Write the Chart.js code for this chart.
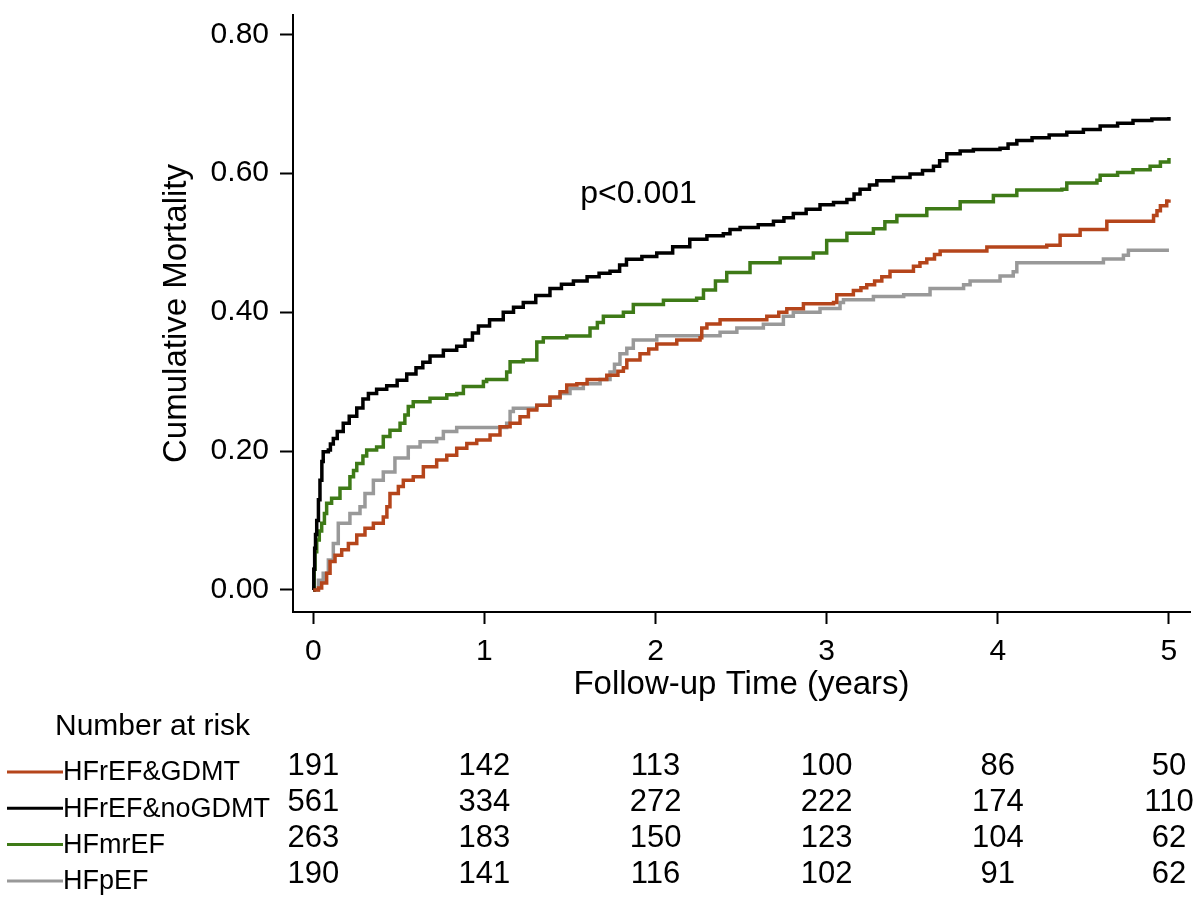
<!DOCTYPE html>
<html>
<head>
<meta charset="utf-8">
<script src="https://cdn.jsdelivr.net/npm/chart.js@4"></script>
<style>
  body { margin: 0; background: #fff; }
  canvas { display: block; }
</style>
</head>
<body>
<canvas id="myChart" width="1200" height="898"></canvas>
<script>
// cumulative mortality (stepped KM)
var tGDMT = [0, 0.03, 0.049, 0.078, 0.098, 0.127, 0.166, 0.205, 0.254, 0.302, 0.351, 0.409, 0.43, 0.448, 0.497, 0.526, 0.584, 0.643, 0.721, 0.78, 0.838, 0.897, 0.955, 1.033, 1.091, 1.15, 1.208, 1.257, 1.306, 1.383, 1.442, 1.481, 1.54, 1.6, 1.715, 1.78, 1.812, 1.832, 1.909, 1.96, 2.007, 2.124, 2.26, 2.27, 2.3, 2.377, 2.65, 2.72, 2.767, 2.864, 3.04, 3.059, 3.156, 3.2, 3.234, 3.28, 3.322, 3.37, 3.507, 3.545, 3.585, 3.63, 3.663, 3.936, 4.286, 4.364, 4.481, 4.637, 4.91, 4.93, 4.95, 4.987, 5.0];
var yGDMT = [0, 0.003, 0.01, 0.024, 0.041, 0.05, 0.058, 0.067, 0.079, 0.089, 0.096, 0.105, 0.12, 0.139, 0.149, 0.158, 0.163, 0.1775, 0.187, 0.194, 0.204, 0.211, 0.216, 0.223, 0.235, 0.24, 0.2495, 0.259, 0.266, 0.278, 0.2855, 0.295, 0.297, 0.303, 0.309, 0.315, 0.32, 0.331, 0.34, 0.347, 0.354, 0.36, 0.363, 0.377, 0.383, 0.389, 0.394, 0.40, 0.405, 0.412, 0.414, 0.425, 0.431, 0.435, 0.4395, 0.445, 0.451, 0.459, 0.466, 0.471, 0.4765, 0.483, 0.488, 0.4937, 0.4964, 0.5107, 0.519, 0.531, 0.539, 0.546, 0.553, 0.56, 0.562];

var tNoGDMT = [0, 0.003, 0.008, 0.013, 0.02, 0.03, 0.039, 0.05, 0.058, 0.088, 0.1, 0.117, 0.14, 0.175, 0.21, 0.254, 0.29, 0.322, 0.37, 0.429, 0.49, 0.546, 0.6, 0.64, 0.682, 0.76, 0.838, 0.887, 0.93, 0.965, 1.03, 1.11, 1.17, 1.227, 1.3, 1.383, 1.45, 1.52, 1.6, 1.67, 1.734, 1.79, 1.83, 1.92, 2.007, 2.1, 2.2, 2.3, 2.396, 2.435, 2.494, 2.6, 2.689, 2.75, 2.805, 2.88, 2.961, 3.04, 3.118, 3.16, 3.195, 3.25, 3.293, 3.39, 3.487, 3.56, 3.624, 3.66, 3.702, 3.78, 3.857, 4.013, 4.06, 4.111, 4.2, 4.3, 4.403, 4.5, 4.598, 4.7, 4.79, 4.9, 5.0];
var yNoGDMT = [0, 0.03, 0.06, 0.08, 0.10, 0.13, 0.158, 0.185, 0.199, 0.2015, 0.21, 0.218, 0.228, 0.24, 0.25, 0.262, 0.275, 0.283, 0.289, 0.294, 0.302, 0.311, 0.32, 0.328, 0.337, 0.345, 0.351, 0.36, 0.37, 0.38, 0.389, 0.40, 0.407, 0.414, 0.424, 0.434, 0.44, 0.445, 0.451, 0.456, 0.459, 0.468, 0.476, 0.48, 0.485, 0.494, 0.505, 0.51, 0.513, 0.519, 0.522, 0.526, 0.531, 0.536, 0.542, 0.548, 0.5546, 0.558, 0.562, 0.57, 0.577, 0.583, 0.589, 0.594, 0.599, 0.604, 0.610, 0.618, 0.628, 0.632, 0.634, 0.636, 0.642, 0.647, 0.651, 0.655, 0.659, 0.663, 0.668, 0.672, 0.676, 0.678, 0.681];

var tMrEF = [0, 0.005, 0.01, 0.02, 0.035, 0.049, 0.065, 0.078, 0.107, 0.156, 0.214, 0.235, 0.254, 0.29, 0.312, 0.37, 0.409, 0.448, 0.507, 0.535, 0.555, 0.584, 0.682, 0.78, 0.838, 0.877, 0.994, 1.013, 1.13, 1.15, 1.227, 1.306, 1.344, 1.481, 1.617, 1.66, 1.695, 1.812, 1.87, 2.046, 2.24, 2.28, 2.35, 2.416, 2.552, 2.728, 2.922, 3.0, 3.118, 3.273, 3.34, 3.41, 3.585, 3.78, 3.974, 4.111, 4.374, 4.403, 4.579, 4.598, 4.7, 4.79, 4.89, 4.95, 5.0];
var yMrEF = [0, 0.03, 0.055, 0.072, 0.085, 0.096, 0.11, 0.125, 0.132, 0.1465, 0.163, 0.172, 0.182, 0.193, 0.2015, 0.206, 0.221, 0.23, 0.24, 0.252, 0.264, 0.271, 0.276, 0.281, 0.283, 0.293, 0.30, 0.303, 0.314, 0.3285, 0.331, 0.357, 0.363, 0.3655, 0.377, 0.385, 0.394, 0.40, 0.411, 0.417, 0.42, 0.432, 0.445, 0.457, 0.471, 0.478, 0.485, 0.503, 0.5135, 0.52, 0.53, 0.539, 0.549, 0.559, 0.568, 0.576, 0.577, 0.586, 0.590, 0.597, 0.601, 0.605, 0.610, 0.616, 0.622];

var tPEF = [0, 0.03, 0.058, 0.088, 0.117, 0.146, 0.214, 0.273, 0.302, 0.351, 0.409, 0.477, 0.555, 0.624, 0.721, 0.76, 0.838, 1.13, 1.15, 1.169, 1.306, 1.383, 1.442, 1.5, 1.578, 1.676, 1.734, 1.76, 1.792, 1.832, 1.87, 2.007, 2.377, 2.475, 2.63, 2.747, 2.805, 2.961, 3.078, 3.098, 3.273, 3.45, 3.604, 3.8, 3.838, 4.013, 4.09, 4.111, 4.617, 4.734, 4.763, 5.0];
var yPEF = [0, 0.014, 0.024, 0.043, 0.067, 0.096, 0.11, 0.12, 0.139, 0.158, 0.17, 0.19, 0.206, 0.2135, 0.218, 0.228, 0.234, 0.24, 0.257, 0.2616, 0.266, 0.276, 0.283, 0.29, 0.297, 0.303, 0.314, 0.325, 0.340, 0.348, 0.36, 0.366, 0.371, 0.377, 0.3826, 0.394, 0.40, 0.4054, 0.414, 0.418, 0.4224, 0.425, 0.434, 0.4395, 0.445, 0.452, 0.458, 0.471, 0.4765, 0.482, 0.489, 0.489];

var groups = ['HFrEF&GDMT', 'HFrEF&noGDMT', 'HFmrEF', 'HFpEF'];
var colors = ['#B5451B', '#000000', '#3E7A17', '#999999'];

// number at risk at 0..5 years
var riskTimes = [0, 1, 2, 3, 4, 5];
var riskGDMT = [191, 142, 113, 100, 86, 50];
var riskNoGDMT = [561, 334, 272, 222, 174, 110];
var riskMrEF = [263, 183, 150, 123, 104, 62];
var riskPEF = [190, 141, 116, 102, 91, 62];
var riskRows = [riskGDMT, riskNoGDMT, riskMrEF, riskPEF];

var xTicks = [0, 1, 2, 3, 4, 5];
var yTicks = [0, 0.2, 0.4, 0.6, 0.8];

function pts(t, y) {
    return t.map(function (v, i) { return { x: v, y: y[i] }; });
}

var FONT = "'Liberation Sans', Arial, sans-serif";
Chart.defaults.color = '#000';
Chart.defaults.font.family = FONT;

var riskTable = {
    id: 'riskTable',
    afterDraw: function (chart) {
        var ctx = chart.ctx;
        var xs = chart.scales.x;
        var ys = chart.scales.y;
        ctx.save();
        ctx.fillStyle = '#000';
        // p-value
        ctx.font = '32px ' + FONT;
        ctx.textAlign = 'left';
        ctx.textBaseline = 'alphabetic';
        ctx.fillText('p<0.001', xs.getPixelForValue(1.56), ys.getPixelForValue(0.557));

        ctx.font = '30px ' + FONT;
        ctx.textBaseline = 'middle';
        ctx.fillText('Number at risk', 55, 727);

        for (var r = 0; r < riskRows.length; r++) {
            var yNum = 766 + r * 36.3;
            var yLab = 773 + r * 36.3;
            ctx.strokeStyle = colors[r];
            ctx.lineWidth = 3;
            ctx.beginPath();
            ctx.moveTo(7, yLab - 1);
            ctx.lineTo(63, yLab - 1);
            ctx.stroke();
            ctx.font = '27px ' + FONT;
            ctx.textAlign = 'left';
            ctx.fillText(groups[r], 63, yLab);
            ctx.font = '31px ' + FONT;
            ctx.textAlign = 'center';
            for (var c = 0; c < riskTimes.length; c++) {
                ctx.fillText(String(riskRows[r][c]), xs.getPixelForValue(riskTimes[c]), yNum);
            }
        }
        ctx.restore();
    }
};

var ctx = document.getElementById('myChart').getContext('2d');
var myChart = new Chart(ctx, {
    type: 'line',
    data: {
        datasets: [
            { label: groups[0], data: pts(tGDMT, yGDMT), borderColor: colors[0] },
            { label: groups[1], data: pts(tNoGDMT, yNoGDMT), borderColor: colors[1] },
            { label: groups[2], data: pts(tMrEF, yMrEF), borderColor: colors[2] },
            { label: groups[3], data: pts(tPEF, yPEF), borderColor: colors[3] }
        ]
    },
    options: {
        responsive: false,
        animation: false,
        devicePixelRatio: 1,
        layout: { padding: { left: 157, top: 15, right: 10, bottom: 193 } },
        elements: {
            line: { borderWidth: 3.5, stepped: true, tension: 0, fill: false },
            point: { radius: 0 }
        },
        plugins: {
            legend: { display: false },
            tooltip: { enabled: false }
        },
        scales: {
            x: {
                type: 'linear',
                min: -0.1186,
                max: 5.123,
                afterBuildTicks: function (s) { s.ticks = xTicks.map(function (v) { return { value: v }; }); },
                afterFit: function (s) { s.height = 93; s.paddingLeft = 0; s.paddingRight = 0; },
                grid: { drawOnChartArea: false, drawTicks: true, tickLength: 12, tickWidth: 2, tickColor: '#000' },
                border: { display: true, color: '#000', width: 2 },
                ticks: { font: { size: 30 }, padding: 10, maxRotation: 0, autoSkip: false },
                title: { display: true, text: 'Follow-up Time (years)', font: { size: 33 }, padding: 0 }
            },
            y: {
                type: 'linear',
                min: -0.0317,
                max: 0.8278,
                afterBuildTicks: function (s) { s.ticks = yTicks.map(function (v) { return { value: v }; }); },
                afterFit: function (s) { s.width = 136; s.paddingTop = 0; s.paddingBottom = 0; },
                grid: { drawOnChartArea: false, drawTicks: true, tickLength: 13, tickWidth: 2, tickColor: '#000' },
                border: { display: true, color: '#000', width: 2 },
                ticks: {
                    font: { size: 30 }, padding: 11, autoSkip: false,
                    callback: function (v) { return Number(v).toFixed(2); }
                },
                title: { display: true, text: 'Cumulative Mortality', font: { size: 33 }, padding: 0 }
            }
        }
    },
    plugins: [riskTable]
});
</script>
</body>
</html>
